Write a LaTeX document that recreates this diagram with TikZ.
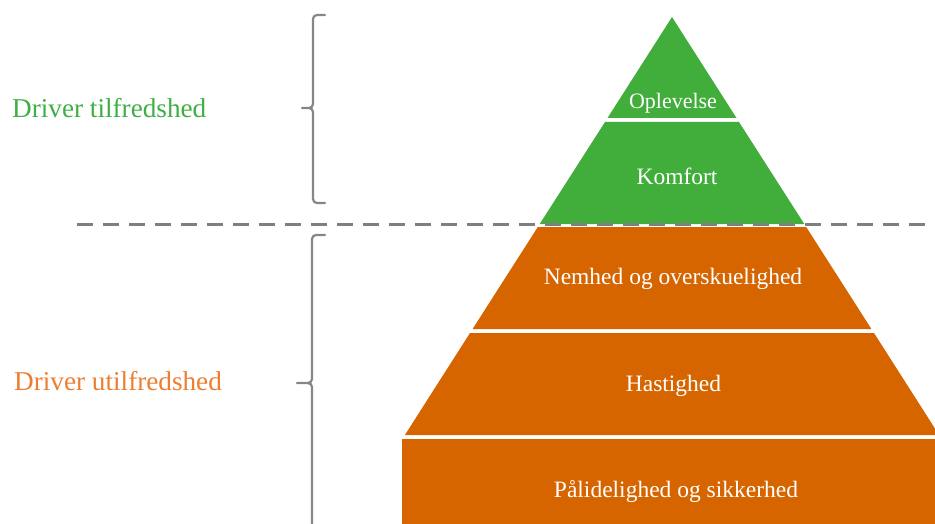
\documentclass[tikz,border=0pt]{standalone}
\usepackage{fontspec}
\setmainfont{Liberation Serif}
\definecolor{pgreen}{HTML}{41AD3B}
\definecolor{porange}{HTML}{D66500}
\definecolor{tgreen}{HTML}{3DAF44}
\definecolor{torange}{HTML}{ED7D31}
\definecolor{dashgray}{HTML}{7F7F7F}
\definecolor{bracegray}{HTML}{868686}
\tikzset{
  slice/.style={draw=none},
  lbl/.style={text=white, font=\fontsize{23.5}{26}\selectfont, inner sep=0pt, anchor=center},
  side/.style={font=\fontsize{27.2}{30}\selectfont, inner sep=0pt, anchor=west},
  bracepath/.style={draw=bracegray, line width=2.2pt, line cap=round, line join=round},
  sep/.style={draw=dashgray, line width=3.3pt, dash pattern=on 16pt off 10pt}
}
\begin{document}
\begin{tikzpicture}[x=1pt,y=-1pt]
\useasboundingbox (0,0) rectangle (935,524);
\clip (0,0) rectangle (935,524);
% pyramid slices
\fill[pgreen] (672,17) -- (736.5,118) -- (607.5,118) -- cycle;
\fill[pgreen] (605,122) -- (739,122) -- (804.3,224) -- (539.7,224) -- cycle;
\fill[porange] (537.8,227) -- (806.2,227) -- (871.4,329) -- (472.6,329) -- cycle;
\fill[porange] (470,333) -- (874,333) -- (939.1,435) -- (404.9,435) -- cycle;
\fill[porange] (402,439) rectangle (945,530);
% labels
\node[lbl, font=\fontsize{22}{24}\selectfont] (opl) at (673,103.5) {Oplevelse};
\node[lbl] (kom) at (677,176.5) {Komfort};
\node[lbl] (nem) at (673,278.5) {Nemhed og overskuelighed};
\node[lbl] (has) at (673.5,385.5) {Hastighed};
\node[lbl] (pal) at (676,491.5) {Pålidelighed og sikkerhed};
% dashed separator
\coordinate (dl) at (77,224.7);
\coordinate (dr) at (945,224.7);
\draw[sep] (dl) -- (dr);
% braces
\draw[bracepath] (325,15) -- (317,15) to[out=180,in=90] (313,19) -- (313,104)
  to[out=-90,in=0] (309,108) -- (302,108);
\draw[bracepath] (309,108) to[out=0,in=90] (313,112) -- (313,199)
  to[out=-90,in=180] (317,203) -- (325,203);
\draw[bracepath] (325,235) -- (316,235) to[out=180,in=90] (312,239) -- (312,379)
  to[out=-90,in=0] (308,383) -- (297,383);
\draw[bracepath] (308,383) to[out=0,in=90] (312,387) -- (312,540);
% side labels
\node[side, text=tgreen] (dtil) at (12,108) {Driver tilfredshed};
\node[side, text=torange] (dutil) at (14,381) {Driver utilfredshed};
\end{tikzpicture}
\end{document}
